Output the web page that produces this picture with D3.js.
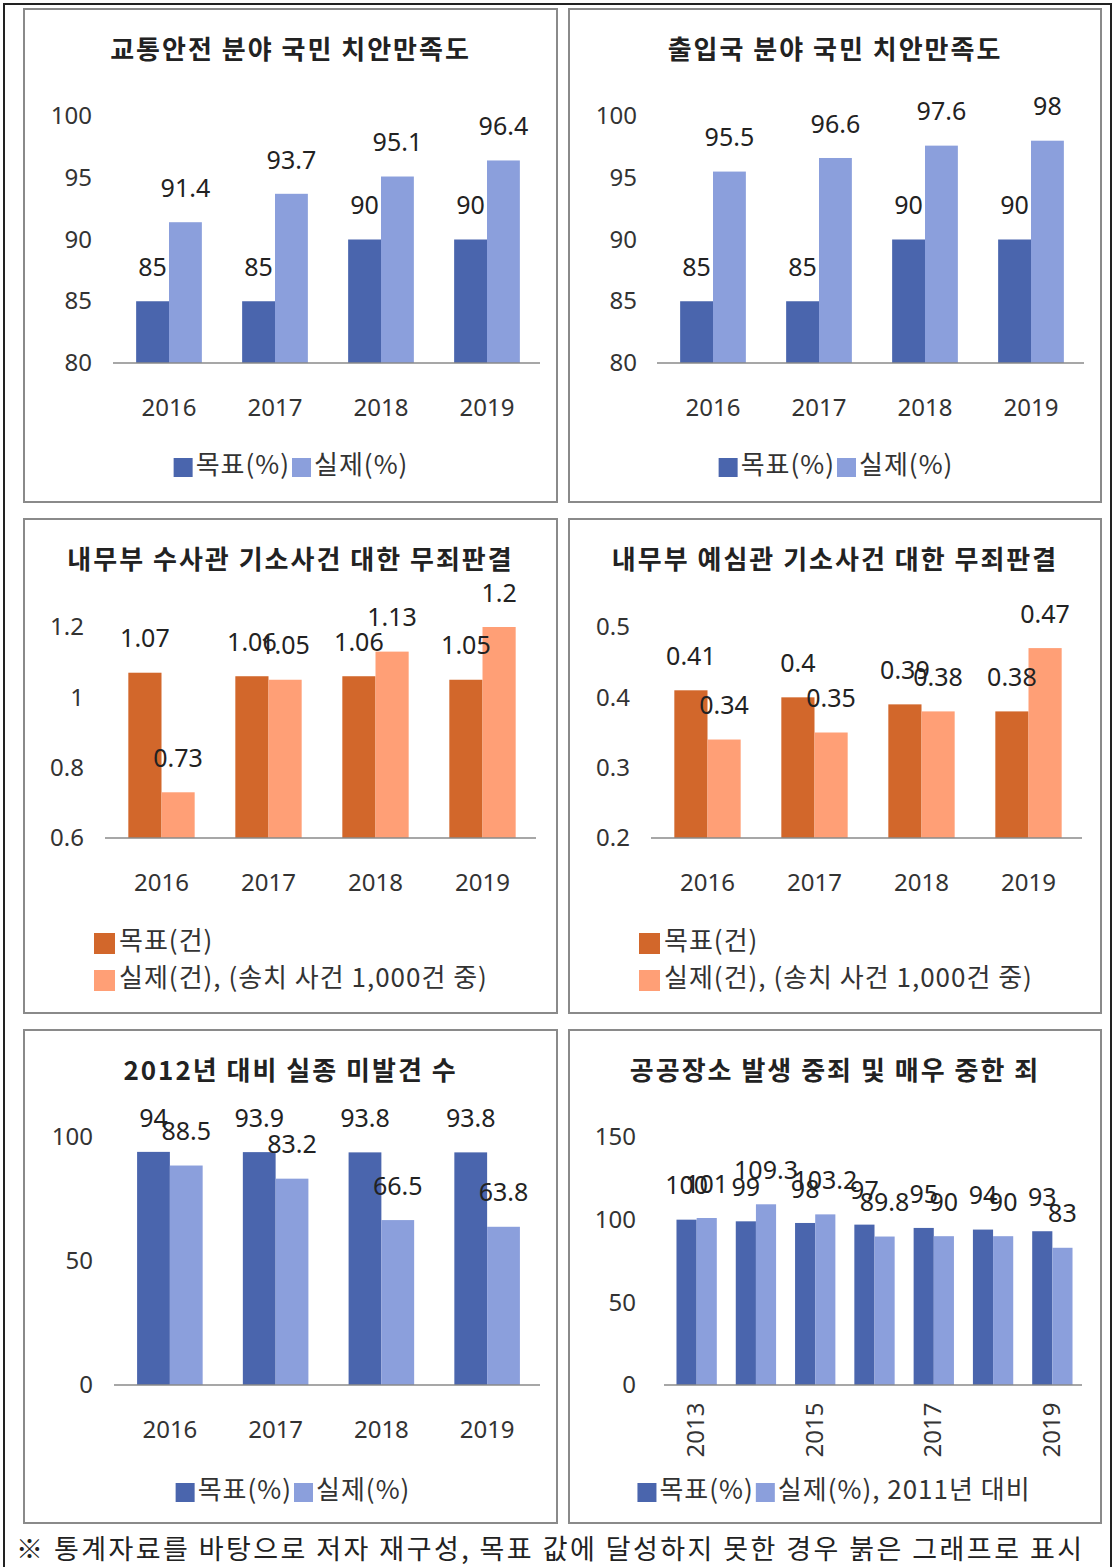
<!DOCTYPE html>
<html>
<head>
<meta charset="utf-8">
<script src="https://cdn.jsdelivr.net/npm/d3@7"></script>
<style>
  body { margin: 0; background: #fff; }
  svg { display: block; font-family: "Noto Sans CJK KR", "Noto Sans", sans-serif; }
</style>
</head>
<body>
<div id="chart"></div>
<script>
// data, one small set per panel
const years4 = ['2016', '2017', '2018', '2019'];
const years7 = ['2013', '2014', '2015', '2016', '2017', '2018', '2019'];
const shownYears7 = ['2013', '2015', '2017', '2019'];

const trafficTarget = [85, 85, 90, 90];
const trafficActual = [91.4, 93.7, 95.1, 96.4];
const immigTarget = [85, 85, 90, 90];
const immigActual = [95.5, 96.6, 97.6, 98];
const investTarget = [1.07, 1.06, 1.06, 1.05];
const investActual = [0.73, 1.05, 1.13, 1.2];
const prelimTarget = [0.41, 0.4, 0.39, 0.38];
const prelimActual = [0.34, 0.35, 0.38, 0.47];
const missingTarget = [94, 93.9, 93.8, 93.8];
const missingActual = [88.5, 83.2, 66.5, 63.8];
const crimeTarget = [100, 99, 98, 97, 95, 94, 93];
const crimeActual = [101, 109.3, 103.2, 89.8, 90, 90, 83];

const ticks80 = [80, 85, 90, 95, 100];
const ticksInvest = [0.6, 0.8, 1, 1.2];
const ticksPrelim = [0.2, 0.3, 0.4, 0.5];
const ticksMissing = [0, 50, 100];
const ticksCrime = [0, 50, 100, 150];

const blue = ['#4a65ad', '#8b9fdc'];
const orange = ['#d2672b', '#ff9f76'];

const W = 1115, H = 1567;
const svg = d3.select('#chart').append('svg').attr('width', W).attr('height', H);

// outer table frame
svg.append('rect').attr('x', 4).attr('y', 4).attr('width', 1107).attr('height', 1600)
  .attr('fill', 'none').attr('stroke', '#222').attr('stroke-width', 2);

const charts = [
  { box: [24, 9, 533, 493], title: '교통안전 분야 국민 치안만족도', cats: years4, target: trafficTarget, actual: trafficActual,
    domain: [80, 100], ticks: ticks80, plot: [116, 540, 116, 363], tickX: 92, colors: blue,
    legend: { type: 'row', cx: 292, y: 467, labels: ['목표(%)', '실제(%)'] } },
  { box: [569, 9, 532, 493], title: '출입국 분야 국민 치안만족도', cats: years4, target: immigTarget, actual: immigActual,
    domain: [80, 100], ticks: ticks80, plot: [660, 1084, 116, 363], tickX: 637, colors: blue,
    legend: { type: 'row', cx: 837, y: 467, labels: ['목표(%)', '실제(%)'] } },
  { box: [24, 519, 533, 494], title: '내무부 수사관 기소사건 대한 무죄판결', cats: years4, target: investTarget, actual: investActual,
    domain: [0.6, 1.2], ticks: ticksInvest, plot: [108, 536, 627, 838], tickX: 84, colors: orange,
    legend: { type: 'col', x: 94, y: 943, labels: ['목표(건)', '실제(건), (송치 사건 1,000건 중)'] } },
  { box: [569, 519, 532, 494], title: '내무부 예심관 기소사건 대한 무죄판결', cats: years4, target: prelimTarget, actual: prelimActual,
    domain: [0.2, 0.5], ticks: ticksPrelim, plot: [654, 1082, 627, 838], tickX: 630, colors: orange,
    legend: { type: 'col', x: 639, y: 943, labels: ['목표(건)', '실제(건), (송치 사건 1,000건 중)'] } },
  { box: [24, 1030, 533, 493], title: '2012년 대비 실종 미발견 수', cats: years4, target: missingTarget, actual: missingActual,
    domain: [0, 100], ticks: ticksMissing, plot: [117, 540, 1137, 1385], tickX: 93, colors: blue,
    legend: { type: 'row', cx: 294, y: 1492, labels: ['목표(%)', '실제(%)'] } },
  { box: [569, 1030, 532, 493], title: '공공장소 발생 중죄 및 매우 중한 죄', cats: years7, target: crimeTarget, actual: crimeActual,
    domain: [0, 150], ticks: ticksCrime, plot: [667, 1082, 1137, 1385], tickX: 636, colors: blue, rotate: true,
    legend: { type: 'row', cx: 835, y: 1492, labels: ['목표(%)', '실제(%), 2011년 대비'] } }
];

charts.forEach(c => {
  const [bx, by, bw, bh] = c.box;
  svg.append('rect').attr('x', bx).attr('y', by).attr('width', bw).attr('height', bh)
    .attr('fill', '#fff').attr('stroke', '#8a8a8a').attr('stroke-width', 2);

  svg.append('text').attr('x', bx + bw / 2).attr('y', by + 43)
    .attr('text-anchor', 'middle').attr('dominant-baseline', 'middle')
    .attr('font-size', 26).attr('font-weight', 'bold').attr('fill', '#222')
    .attr('letter-spacing', 2).text(c.title);

  const [left, right, top, bottom] = c.plot;
  const n = c.cats.length;
  const pin = n === 7 ? 0.32 : 0.38;
  const x0 = d3.scaleBand().domain(c.cats).range([left, right]).paddingInner(pin).paddingOuter(pin / 2);
  const x1 = d3.scaleBand().domain(['target', 'actual']).range([0, x0.bandwidth()]);
  const y = d3.scaleLinear().domain(c.domain).range([bottom, top]);

  // y tick labels, no axis line
  const yAxis = d3.axisLeft(y).tickValues(c.ticks).tickSize(0).tickPadding(0).tickFormat(d3.format('~g'));
  const ga = svg.append('g').attr('transform', `translate(${c.tickX},0)`).call(yAxis);
  ga.select('.domain').remove();
  ga.selectAll('text').attr('font-size', 24).attr('fill', '#333').attr('font-family', '"Noto Sans", sans-serif');

  const rows = c.cats.map((k, i) => ({ cat: k, target: c.target[i], actual: c.actual[i] }));
  const g = svg.append('g');
  const grp = g.selectAll('g').data(rows).join('g').attr('transform', d => `translate(${x0(d.cat)},0)`);
  ['target', 'actual'].forEach((key, ki) => {
    grp.append('rect')
      .attr('x', x1(key)).attr('width', x1.bandwidth())
      .attr('y', d => y(d[key])).attr('height', d => y(c.domain[0]) - y(d[key]))
      .attr('fill', c.colors[ki]);
  });

  // baseline
  svg.append('line').attr('x1', left - 3).attr('x2', right).attr('y1', bottom).attr('y2', bottom)
    .attr('stroke', '#8a8a8a').attr('stroke-width', 1.5);

  // value labels
  ['target', 'actual'].forEach(key => {
    grp.append('text')
      .attr('x', x1(key) + x1.bandwidth() / 2)
      .attr('y', d => y(d[key]) - 32)
      .attr('text-anchor', 'middle').attr('dominant-baseline', 'middle')
      .attr('font-size', 25).attr('fill', '#222').attr('font-family', '"Noto Sans", sans-serif')
      .text(d => d[key]);
  });

  // x labels
  if (c.rotate) {
    svg.append('g').selectAll('text').data(shownYears7).join('text')
      .attr('transform', d => `translate(${x0(d) + x0.bandwidth() / 2 + 1},${bottom + 45}) rotate(-90)`)
      .attr('text-anchor', 'middle').attr('dominant-baseline', 'middle')
      .attr('font-size', 24).attr('fill', '#333').attr('font-family', '"Noto Sans", sans-serif')
      .text(d => d);
  } else {
    const xAxis = d3.axisBottom(x0).tickSize(0).tickPadding(0);
    const gx = svg.append('g').attr('transform', `translate(0,${bottom + 45})`).call(xAxis);
    gx.select('.domain').remove();
    gx.selectAll('text').attr('font-size', 24).attr('fill', '#333').attr('dy', '0.32em')
      .attr('font-family', '"Noto Sans", sans-serif');
  }

  // legend
  const L = c.legend;
  const lg = svg.append('g').attr('font-size', 26).attr('letter-spacing', 1).attr('fill', '#333');
  if (L.type === 'row') {
    const items = lg.selectAll('g').data(L.labels).join('g');
    items.append('rect').attr('width', 19).attr('height', 19).attr('y', -9).attr('fill', (d, i) => c.colors[i]);
    items.append('text').attr('x', 22).attr('dominant-baseline', 'middle').text(d => d);
    let off = 0;
    const widths = [];
    items.each(function () { widths.push(this.querySelector('text').getComputedTextLength() + 22 + 2); });
    const total = d3.sum(widths);
    items.attr('transform', (d, i) => {
      const t = `translate(${L.cx - total / 2 + off},${L.y})`;
      off += widths[i];
      return t;
    });
  } else {
    const items = lg.selectAll('g').data(L.labels).join('g')
      .attr('transform', (d, i) => `translate(${L.x},${L.y + i * 37})`);
    items.append('rect').attr('width', 21).attr('height', 21).attr('y', -10).attr('fill', (d, i) => c.colors[i]);
    items.append('text').attr('x', 25).attr('dominant-baseline', 'middle').text(d => d);
  }
});

// footnote
svg.append('text').attr('x', 16).attr('y', 1552).attr('dominant-baseline', 'middle')
  .attr('font-size', 27).attr('fill', '#222')
  .attr('textLength', 1066).attr('lengthAdjust', 'spacing')
  .text('※ 통계자료를 바탕으로 저자 재구성, 목표 값에 달성하지 못한 경우 붉은 그래프로 표시');
</script>
</body>
</html>
